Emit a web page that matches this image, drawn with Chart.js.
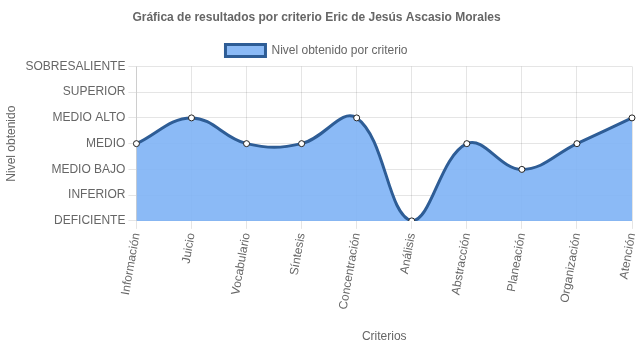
<!DOCTYPE html>
<html>
<head>
<meta charset="utf-8">
<script src="https://cdn.jsdelivr.net/npm/chart.js@4/dist/chart.umd.min.js"></script>
<style>
  html, body { margin: 0; padding: 0; background: #fff; }
  #wrap { width: 637px; height: 348px; }
</style>
</head>
<body>
<div id="wrap"><canvas id="grafica"></canvas></div>
<script>
// Criterios evaluados y nivel obtenido (0 = DEFICIENTE ... 6 = SOBRESALIENTE)
const criterios = ['Información', 'Juicio', 'Vocabulario', 'Síntesis', 'Concentración',
  'Análisis', 'Abstracción', 'Planeación', 'Organización', 'Atención'];
const niveles = [3, 4, 3, 3, 4, 0, 3, 2, 3, 4];
const nombresNivel = ['DEFICIENTE', 'INFERIOR', 'MEDIO BAJO', 'MEDIO', 'MEDIO ALTO', 'SUPERIOR', 'SOBRESALIENTE'];

Chart.defaults.font.family = '"Liberation Sans", Arial, sans-serif';
Chart.defaults.font.size = 12;
Chart.defaults.color = '#666';

const ctx = document.getElementById('grafica').getContext('2d');
new Chart(ctx, {
  type: 'line',
  data: {
    labels: criterios,
    datasets: [{
      label: 'Nivel obtenido por criterio',
      data: niveles,
      fill: true,
      backgroundColor: 'rgba(126, 179, 245, 0.9)',
      borderColor: '#2e5d96',
      borderWidth: 3,
      tension: 0.4,
      pointRadius: 3,
      pointBorderWidth: 1,
      pointBackgroundColor: '#fff',
      pointBorderColor: '#222'
    }]
  },
  options: {
    responsive: true,
    maintainAspectRatio: false,
    animation: false,
    layout: { padding: { top: 0, right: 4, left: 0, bottom: 0 } },
    plugins: {
      title: {
        display: true,
        text: 'Gráfica de resultados por criterio Eric de Jesús Ascasio Morales',
        font: { weight: 'bold', size: 12 },
        padding: { top: 10, bottom: 10 }
      },
      legend: {
        labels: { boxWidth: 40, boxHeight: 12, font: { size: 12 } }
      },
      tooltip: { enabled: false }
    },
    scales: {
      x: {
        grid: { color: 'rgba(0,0,0,0.1)', tickLength: 8 },
        ticks: { minRotation: 80, maxRotation: 80, autoSkip: false },
        title: { display: true, text: 'Criterios', padding: { top: 16 } },
        // la última etiqueta rotada no necesita tanto margen a la derecha
        afterFit: s => { s.paddingRight = 0; }
      },
      y: {
        min: 0,
        max: 6,
        grid: { color: 'rgba(0,0,0,0.1)', tickLength: 8 },
        ticks: {
          stepSize: 1,
          callback: v => nombresNivel[v]
        },
        title: { display: true, text: 'Nivel obtenido' }
      }
    }
  }
});
</script>
</body>
</html>
